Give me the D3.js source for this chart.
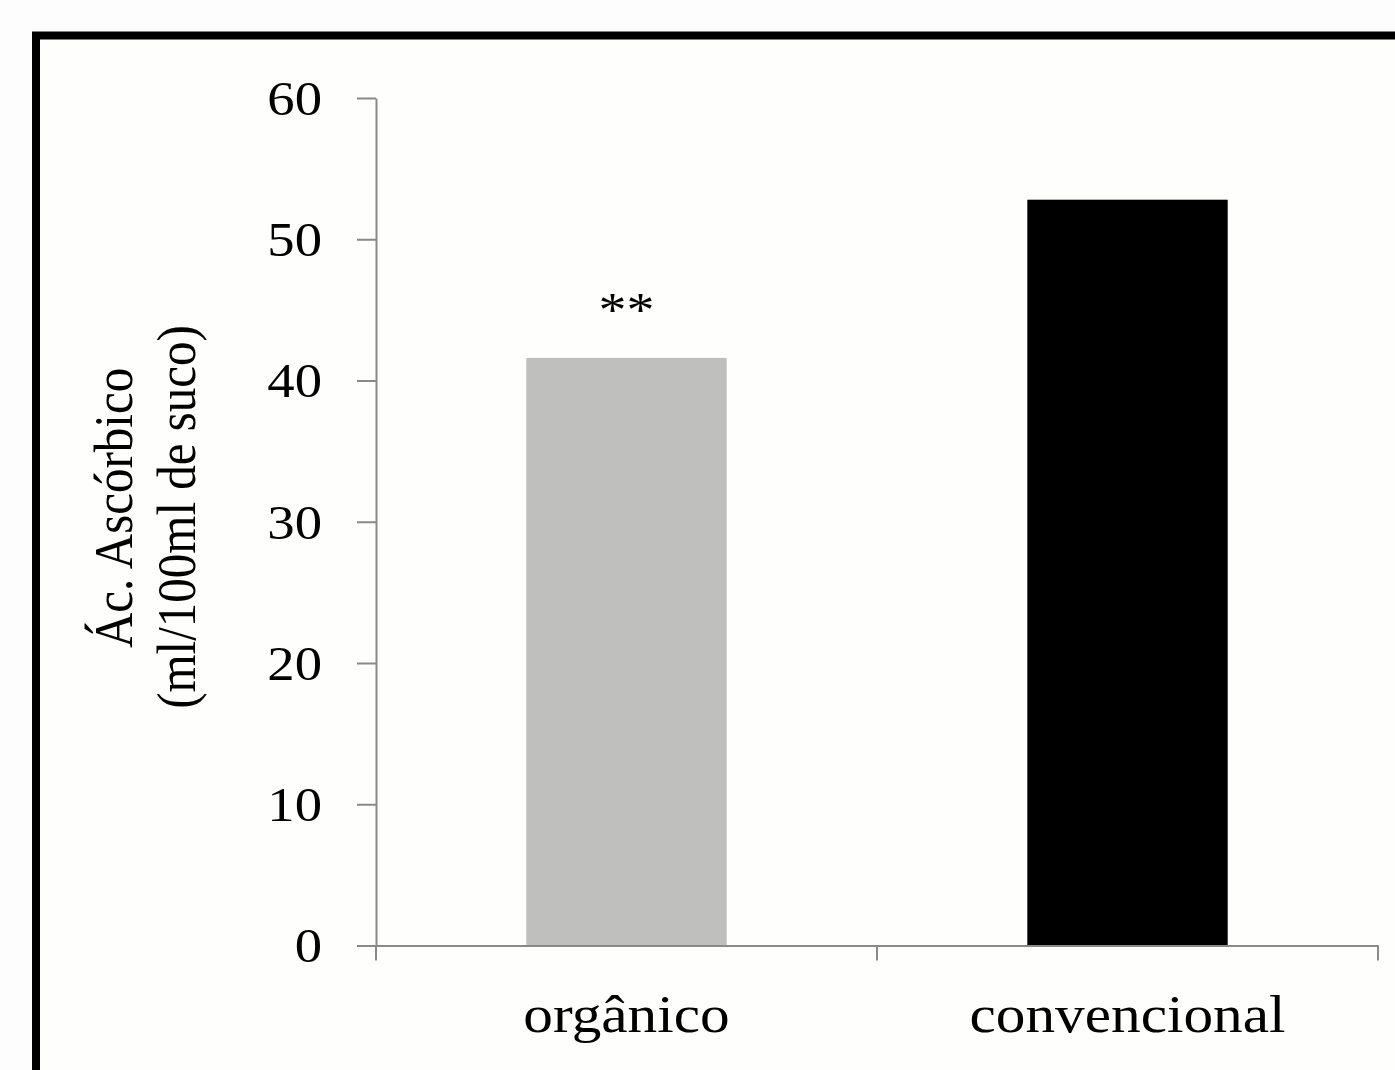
<!DOCTYPE html>
<html>
<head>
<meta charset="utf-8">
<script src="https://cdn.jsdelivr.net/npm/d3@7"></script>
<style>
  html, body { margin: 0; padding: 0; background: #fcfdfc; }
  svg { display: block; }
  text { font-family: "Liberation Serif", "Times New Roman", serif; fill: #000; }
</style>
</head>
<body>
<svg id="chart" width="1395" height="1070"></svg>
<script>
const categories = ["orgânico", "convencional"];
const values = [41.6, 52.8];
const barColors = ["#bfc0bd", "#000000"];
const annotations = ["**", ""];
const yTicks = [0, 10, 20, 30, 40, 50, 60];
const yTitleLines = ["Ác. Ascórbico", "(ml/100ml de suco)"];

const SX = 1.14;       // horizontal stretch of the original picture
const FS = 49;         // font size

const svg = d3.select("#chart");

// frame
svg.append("rect")
  .attr("x", 36).attr("y", 35.5)
  .attr("width", 3000).attr("height", 3000)
  .attr("fill", "#fefefc")
  .attr("stroke", "#000").attr("stroke-width", 8);

const x = d3.scaleBand().domain(categories).range([376, 1378]).padding(0);
const y = d3.scaleLinear().domain([0, 60]).range([945.5, 98]);
const barFrac = 0.4;

function stretch(sel) {
  sel.each(function () {
    const w = this.getComputedTextLength();
    d3.select(this).attr("textLength", w * SX).attr("lengthAdjust", "spacingAndGlyphs");
  });
}

// bars
svg.append("g").selectAll("rect")
  .data(categories)
  .join("rect")
  .attr("x", (d) => x(d) + x.bandwidth() * (1 - barFrac) / 2)
  .attr("width", x.bandwidth() * barFrac)
  .attr("y", (d, i) => y(values[i]))
  .attr("height", (d, i) => y(0) - y(values[i]))
  .attr("fill", (d, i) => barColors[i]);

// significance annotation
svg.append("g").selectAll("text")
  .data(categories)
  .join("text")
  .attr("x", (d) => x(d) + x.bandwidth() / 2)
  .attr("y", (d, i) => y(values[i]) - 32)
  .attr("text-anchor", "middle")
  .style("font-size", FS + "px")
  .text((d, i) => annotations[i])
  .call(stretch);

// y axis
const yAxis = svg.append("g")
  .attr("transform", "translate(376,0)")
  .call(d3.axisLeft(y).tickValues(yTicks).tickFormat(d3.format("d"))
        .tickSize(19).tickSizeOuter(0).tickPadding(35));
yAxis.select(".domain").attr("stroke", "#898989").attr("stroke-width", 2);
yAxis.selectAll(".tick line").attr("stroke", "#898989").attr("stroke-width", 2);
yAxis.selectAll(".tick text")
  .attr("fill", "#000")
  .style("font-family", "'Liberation Serif', serif")
  .style("font-size", (FS - 1) + "px")
  .attr("dy", "0.34em")
  .call(stretch);

// x axis
const xAxis = svg.append("g")
  .attr("transform", `translate(0,${y(0)})`)
  .call(d3.axisBottom(x).tickSize(0).tickSizeOuter(0).tickPadding(0));
xAxis.select(".domain").attr("stroke", "#898989").attr("stroke-width", 2);
xAxis.selectAll(".tick text")
  .attr("fill", "#000")
  .style("font-family", "'Liberation Serif', serif")
  .style("font-size", "52px")
  .attr("y", 86).attr("dy", 0)
  .call(stretch);
// boundary ticks
const bounds = categories.map((c) => x(c)).concat([x.range()[1]]);
xAxis.append("g").selectAll("line")
  .data(bounds)
  .join("line")
  .attr("x1", (d) => d).attr("x2", (d) => d)
  .attr("y1", 0).attr("y2", 15)
  .attr("stroke", "#898989").attr("stroke-width", 2);

// y title (two lines, rotated)
const titlePos = [{ bx: 132, cy: 508 }, { bx: 195, cy: 517 }];
svg.append("g").selectAll("text")
  .data(yTitleLines)
  .join("text")
  .attr("transform", (d, i) => `translate(${titlePos[i].bx},${titlePos[i].cy}) scale(${SX},1) rotate(-90)`)
  .attr("text-anchor", "middle")
  .style("font-size", FS + "px")
  .text((d) => d);
</script>
</body>
</html>
